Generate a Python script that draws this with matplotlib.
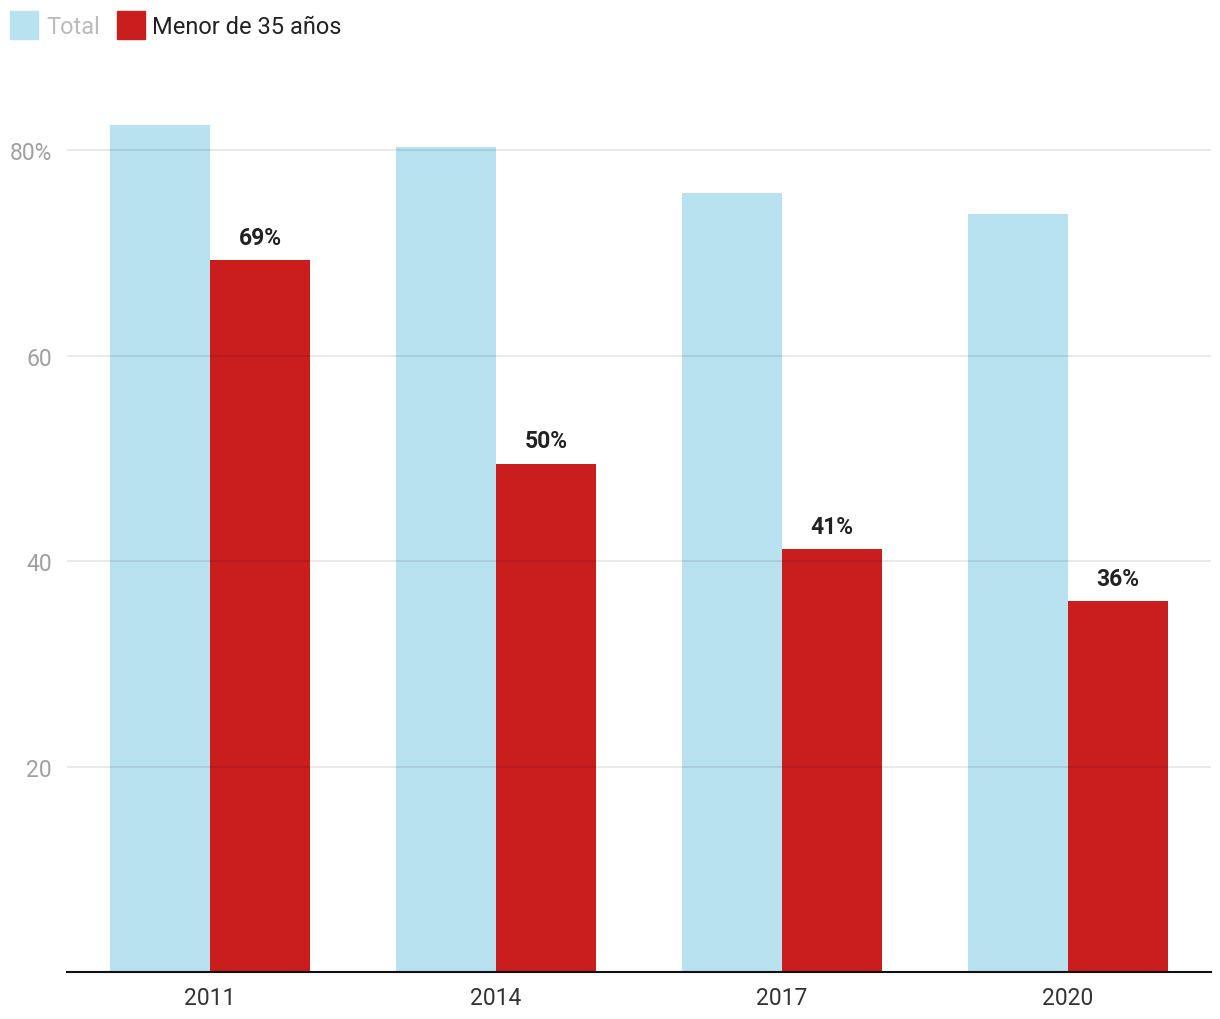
import matplotlib
matplotlib.use("Agg")
import matplotlib.pyplot as plt
import numpy as np
from matplotlib.patches import Rectangle

years = ["2011", "2014", "2017", "2020"]
total = [82.5, 80.3, 75.8, 73.8]
menor = [69.3, 49.5, 41.2, 36.1]
menor_labels = ["69%", "50%", "41%", "36%"]
yticks = [20, 40, 60, 80]
ytick_labels = ["20", "40", "60", "80%"]

plt.rcParams['font.family'] = ['Roboto', 'DejaVu Sans']

fig = plt.figure(figsize=(12.2, 10.2), dpi=100)
ax = fig.add_axes([67/1220, 47/1020, (1211-67)/1220, (973-100)/1020])

x = np.arange(len(years))
w = 0.35
blue = "#b8e2f0"
red = "#c91d1e"
ax.bar(x - w/2, total, width=w, color=blue, zorder=1)
ax.bar(x + w/2, menor, width=w, color=red, zorder=1)

for xi, v, lab in zip(x, menor, menor_labels):
    ax.annotate(lab, (xi + w/2, v), xytext=(0, 8), textcoords="offset points",
                ha="center", va="bottom", fontsize=16.5, fontweight="bold", color="#222222")

ax.set_xlim(-0.5, 3.5)
ax.set_ylim(0, 85)
ax.set_yticks(yticks)
ax.set_yticklabels(ytick_labels)
ax.set_xticks(x)
ax.set_xticklabels(years)
for yv in yticks:
    ax.axhline(yv, color="#000000", alpha=0.1, lw=1.2, zorder=3)
ax.tick_params(axis="y", length=0, labelsize=16.5, labelcolor="#a0a0a0", pad=11)
ax.tick_params(axis="x", length=0, labelsize=16.5, labelcolor="#333333", pad=10)
for s in ["top", "right", "left"]:
    ax.spines[s].set_visible(False)
ax.spines["bottom"].set_color("#111111")
ax.spines["bottom"].set_linewidth(1.5)
ax.spines["bottom"].set_zorder(4)

# legend
fig.patches.append(Rectangle((10/1220, 1-40/1020), 28/1220, 28/1020, transform=fig.transFigure, color=blue))
fig.text(46/1220, 1-27/1020, "Total", fontsize=17, color="#bbbbbb", va="center", ha="left")
fig.patches.append(Rectangle((117/1220, 1-40/1020), 28/1220, 28/1020, transform=fig.transFigure, color=red))
fig.text(152/1220, 1-27/1020, "Menor de 35 años", fontsize=17, color="#222222", va="center", ha="left")

fig.savefig("out.png", dpi=100)
